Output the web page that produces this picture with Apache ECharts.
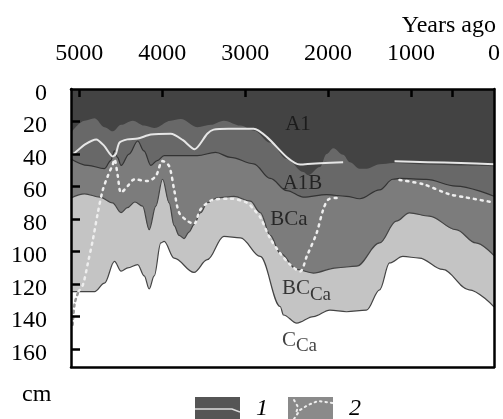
<!DOCTYPE html>
<html>
<head>
<meta charset="utf-8">
<script src="https://cdn.jsdelivr.net/npm/echarts@6/dist/echarts.min.js"></script>
<style>
html, body { margin: 0; padding: 0; background: #fff; }
#chart { width: 503px; height: 419px; }
</style>
</head>
<body>
<div id="chart"></div>
<script>
// years ago (x) against depth in cm (y), both
var xLabels = [5000, 4000, 3000, 2000, 1000, 0];
var xTicks = [5000, 4000, 3000, 2000, 1000, 500];
var yLabels = [0, 20, 40, 60, 80, 100, 120, 140, 160];
var yTicks = [20, 40, 60, 80, 100, 120, 140, 160];

// lower edge of A1
var edgeA1 = [[5100, 27], [4936, 19.5], [4816, 18], [4696, 23.5], [4596, 26], [4496, 22], [4356, 19.5],
  [4217, 22.5], [4097, 24], [3897, 19.5], [3777, 18.5], [3577, 23.5], [3417, 22], [3257, 19.5],
  [3057, 22.5], [2898, 25.5], [2698, 33], [2498, 43], [2298, 51], [2240, 53], [2098, 48], [2018, 40],
  [1938, 36.5], [1819, 40.5], [1739, 45], [1619, 49], [1538, 49], [1379, 46.3], [1219, 45.5],
  [800, 46.5], [400, 47], [0, 47.5]];
// lower edge of A1B
var edgeA1B = [[5100, 43], [4896, 47], [4696, 49], [4620, 44], [4576, 38], [4540, 42], [4496, 47],
  [4400, 40], [4296, 32], [4220, 38], [4137, 47], [4060, 44], [3977, 41], [3777, 41], [3577, 41],
  [3357, 39], [3177, 42], [2898, 46], [2698, 55], [2498, 62.5], [2298, 66.5], [2018, 65], [1778, 66],
  [1619, 67.5], [1379, 62], [1219, 55.5], [1139, 55], [819, 55.6], [459, 59.7], [0, 66]];
// lower edge of BCa
var edgeBCa = [[5100, 67], [4936, 64.5], [4750, 66.5], [4600, 70], [4496, 76], [4420, 73], [4330, 69.5],
  [4237, 72], [4157, 86.5], [4077, 72], [3996, 55.5], [3917, 70], [3857, 84], [3797, 90], [3737, 92],
  [3677, 88], [3617, 83.4], [3537, 76], [3457, 70], [3337, 67], [3137, 66], [2938, 69], [2818, 76],
  [2698, 90], [2578, 101], [2378, 111], [2178, 113.2], [1898, 110], [1658, 109], [1379, 94.7],
  [1179, 81.3], [1019, 76.2], [779, 78.2], [459, 86.5], [219, 94.7], [0, 102.5]];
// lower edge of BCCa
var edgeBCCa = [[5100, 124.6], [4816, 124.6], [4696, 119.4], [4576, 106], [4496, 112], [4416, 110],
  [4296, 108], [4217, 115], [4157, 123], [4097, 115], [4017, 94.7], [3977, 93.7], [3857, 104],
  [3617, 112.8], [3457, 105], [3257, 90.6], [3057, 91.6], [2818, 103], [2578, 133.8], [2538, 139],
  [2378, 144], [2178, 140], [1978, 136], [1778, 137], [1538, 136], [1379, 123.5], [1259, 107],
  [1099, 103], [899, 104], [620, 111], [300, 123.5], [0, 134]];

// curve 1 (solid white) and curve 2 (dotted)
var curve1 = [[5100, 41], [5050, 39], [4930, 34], [4796, 31], [4700, 35], [4596, 41.5], [4560, 40],
  [4516, 33], [4420, 31], [4296, 30.5], [4137, 28], [3897, 27.5], [3750, 31.5], [3610, 37], [3457, 27.5],
  [3380, 25], [3200, 24.5], [2898, 24.5], [2737, 29.6], [2497, 42], [2338, 46.5], [2200, 46],
  [2098, 45.7], [1819, 45], [1500, null], [1199, 44.5], [800, 45], [400, 45.5], [0, 46.3]];
var curve2 = [[5010, 124.6], [4956, 120.4], [4896, 107], [4836, 92.6], [4776, 76], [4716, 62],
  [4656, 53.5], [4596, 46.3], [4576, 43.2], [4536, 53.5], [4496, 63.8], [4416, 59.7], [4336, 55.6],
  [4176, 56.6], [4077, 53.5], [3996, 44.3], [3917, 47.4], [3857, 61.8], [3797, 76], [3700, 81],
  [3617, 83], [3537, 74], [3377, 68], [3177, 67.5], [2977, 70], [2898, 74], [2818, 79], [2698, 92],
  [2578, 101], [2458, 108], [2338, 112.2], [2258, 103], [2138, 88.5], [2058, 74], [1998, 68],
  [1898, 67], [1500, null], [1139, 56], [860, 58.5], [540, 64.7], [339, 66.7], [0, 69.8]];
var curve2Tail = [[5080, 145], [5056, 132], [5010, 124.6]];

var horizonNames = ['A1', 'A1B', 'BCa', 'BC{s|Ca}', 'C{s|Ca}'];
var horizonAt = [[2518, 21.9], [2548, 58], [2698, 80.3], [2557, 122.9], [2557, 154.7]];

var font = '"Liberation Serif", "DejaVu Serif", serif';

function svgIcon(svg) {
  return 'image://data:image/svg+xml;charset=utf-8,' + encodeURIComponent(svg);
}
var icon1 = svgIcon('<svg xmlns="http://www.w3.org/2000/svg" width="45" height="24">' +
  '<rect width="45" height="24" fill="#555"/>' +
  '<path d="M0 12 L37 12 L45 15" stroke="#ddd" stroke-width="1.6" fill="none"/></svg>');
var icon2 = svgIcon('<svg xmlns="http://www.w3.org/2000/svg" width="45" height="24">' +
  '<rect width="45" height="24" fill="#8a8a8a"/>' +
  '<path d="M6 22 L12 13 L20 8 L30 4 L45 6" stroke="#eee" stroke-width="2" fill="none" ' +
  'stroke-dasharray="1.5 4" stroke-linecap="round"/>' +
  '<path d="M6 3 L10 10 L8 16" stroke="#eee" stroke-width="2" fill="none" ' +
  'stroke-dasharray="1.5 4" stroke-linecap="round"/></svg>');

var myChart = echarts.init(document.getElementById('chart'));

function layer(name, data, fill, lineColor) {
  return {
    name: name,
    type: 'line',
    data: data,
    smooth: 0.35,
    smoothMonotone: 'x',
    symbol: 'none',
    silent: true,
    lineStyle: { color: lineColor || fill, width: lineColor ? 1.2 : 0 },
    areaStyle: { color: fill, opacity: 1, origin: 'end' }
  };
}

var option = {
  animation: false,
  backgroundColor: '#fff',
  grid: { left: 71, right: 8, top: 89, bottom: 52, show: true, backgroundColor: '#434343', borderWidth: 0 },
  title: [
    { text: 'Years ago', right: 2, top: 9, textStyle: { fontFamily: font, fontSize: 24, fontWeight: 'normal', color: '#000' } },
    { text: 'cm', left: 17, top: 378, textStyle: { fontFamily: font, fontSize: 24, fontWeight: 'normal', color: '#000' } }
  ],
  legend: {
    data: [{ name: '1', icon: icon1 }, { name: '2', icon: icon2 }],
    left: 190, top: 392, itemWidth: 45, itemHeight: 24, itemGap: 20,
    selectedMode: false,
    textStyle: { fontFamily: font, fontSize: 24, fontStyle: 'italic', color: '#000', padding: [0, 0, 0, 11] }
  },
  xAxis: [
    {
      type: 'value', position: 'top', inverse: true, min: 0, max: 5100, z: 10,
      axisLine: { show: true, onZero: false, lineStyle: { color: '#000', width: 2.5 } },
      axisTick: { show: true, inside: true, length: 8, customValues: xTicks, lineStyle: { color: '#000', width: 2.5 } },
      axisLabel: {
        customValues: xLabels, margin: 23, fontFamily: font, fontSize: 24, color: '#000',
        formatter: function (v) { return String(v); }
      },
      splitLine: { show: false }
    },
    {
      type: 'value', position: 'bottom', inverse: true, min: 0, max: 5100, z: 10,
      axisLine: { show: true, onZero: false, lineStyle: { color: '#000', width: 2.5 } },
      axisTick: { show: false }, axisLabel: { show: false }, splitLine: { show: false }
    }
  ],
  yAxis: [
    {
      type: 'value', inverse: true, min: 0, max: 171, z: 10,
      axisLine: { show: true, onZero: false, lineStyle: { color: '#000', width: 2.5 } },
      axisTick: { show: true, inside: true, length: 9, customValues: yTicks, lineStyle: { color: '#000', width: 2.5 } },
      axisLabel: {
        customValues: yLabels, margin: 24, color: '#000',
        formatter: function (v) { return '{d|' + v + '}'; },
        rich: { d: { fontFamily: font, fontSize: 24, color: '#000', padding: [9, 0, 0, 0] } }
      },
      splitLine: { show: false }
    },
    {
      type: 'value', position: 'right', inverse: true, min: 0, max: 171, z: 10,
      axisLine: { show: true, onZero: false, lineStyle: { color: '#000', width: 2.5 } },
      axisTick: { show: false }, axisLabel: { show: false }, splitLine: { show: false }
    }
  ],
  series: [
    layer('A1B', edgeA1, '#686868'),
    layer('BCa', edgeA1B, '#7c7c7c', '#333'),
    layer('BCCa', edgeBCa, '#c4c4c4', '#444'),
    layer('CCa', edgeBCCa, '#ffffff', '#444'),
    {
      name: '1', type: 'line', data: curve1, smooth: 0.25, symbol: 'none', connectNulls: false, z: 5,
      lineStyle: { color: '#e6e6e6', width: 2 }, itemStyle: { color: '#e6e6e6' }
    },
    {
      name: '2', type: 'line', data: curve2, smooth: 0.3, symbol: 'none', connectNulls: false, z: 5,
      lineStyle: { color: '#eeeeee', width: 2.5, type: [2, 5], cap: 'round' }, itemStyle: { color: '#eee' }
    },
    {
      type: 'line', data: curve2Tail, smooth: 0.3, symbol: 'none', z: 5,
      lineStyle: { color: '#999', width: 2.5, type: [2, 4], cap: 'round' }
    },
    {
      type: 'scatter', symbolSize: 0, z: 6, silent: true,
      data: horizonAt.map(function (p, i) { return { value: p, name: horizonNames[i] }; }),
      label: {
        show: true, position: 'right', distance: 0,
        formatter: function (p) { return p.name; },
        fontFamily: font, fontSize: 21, color: '#111',
        rich: { s: { fontFamily: font, fontSize: 19, color: '#111', padding: [12, 0, 0, 0] } }
      }
    }
  ]
};

myChart.setOption(option);
</script>
</body>
</html>
